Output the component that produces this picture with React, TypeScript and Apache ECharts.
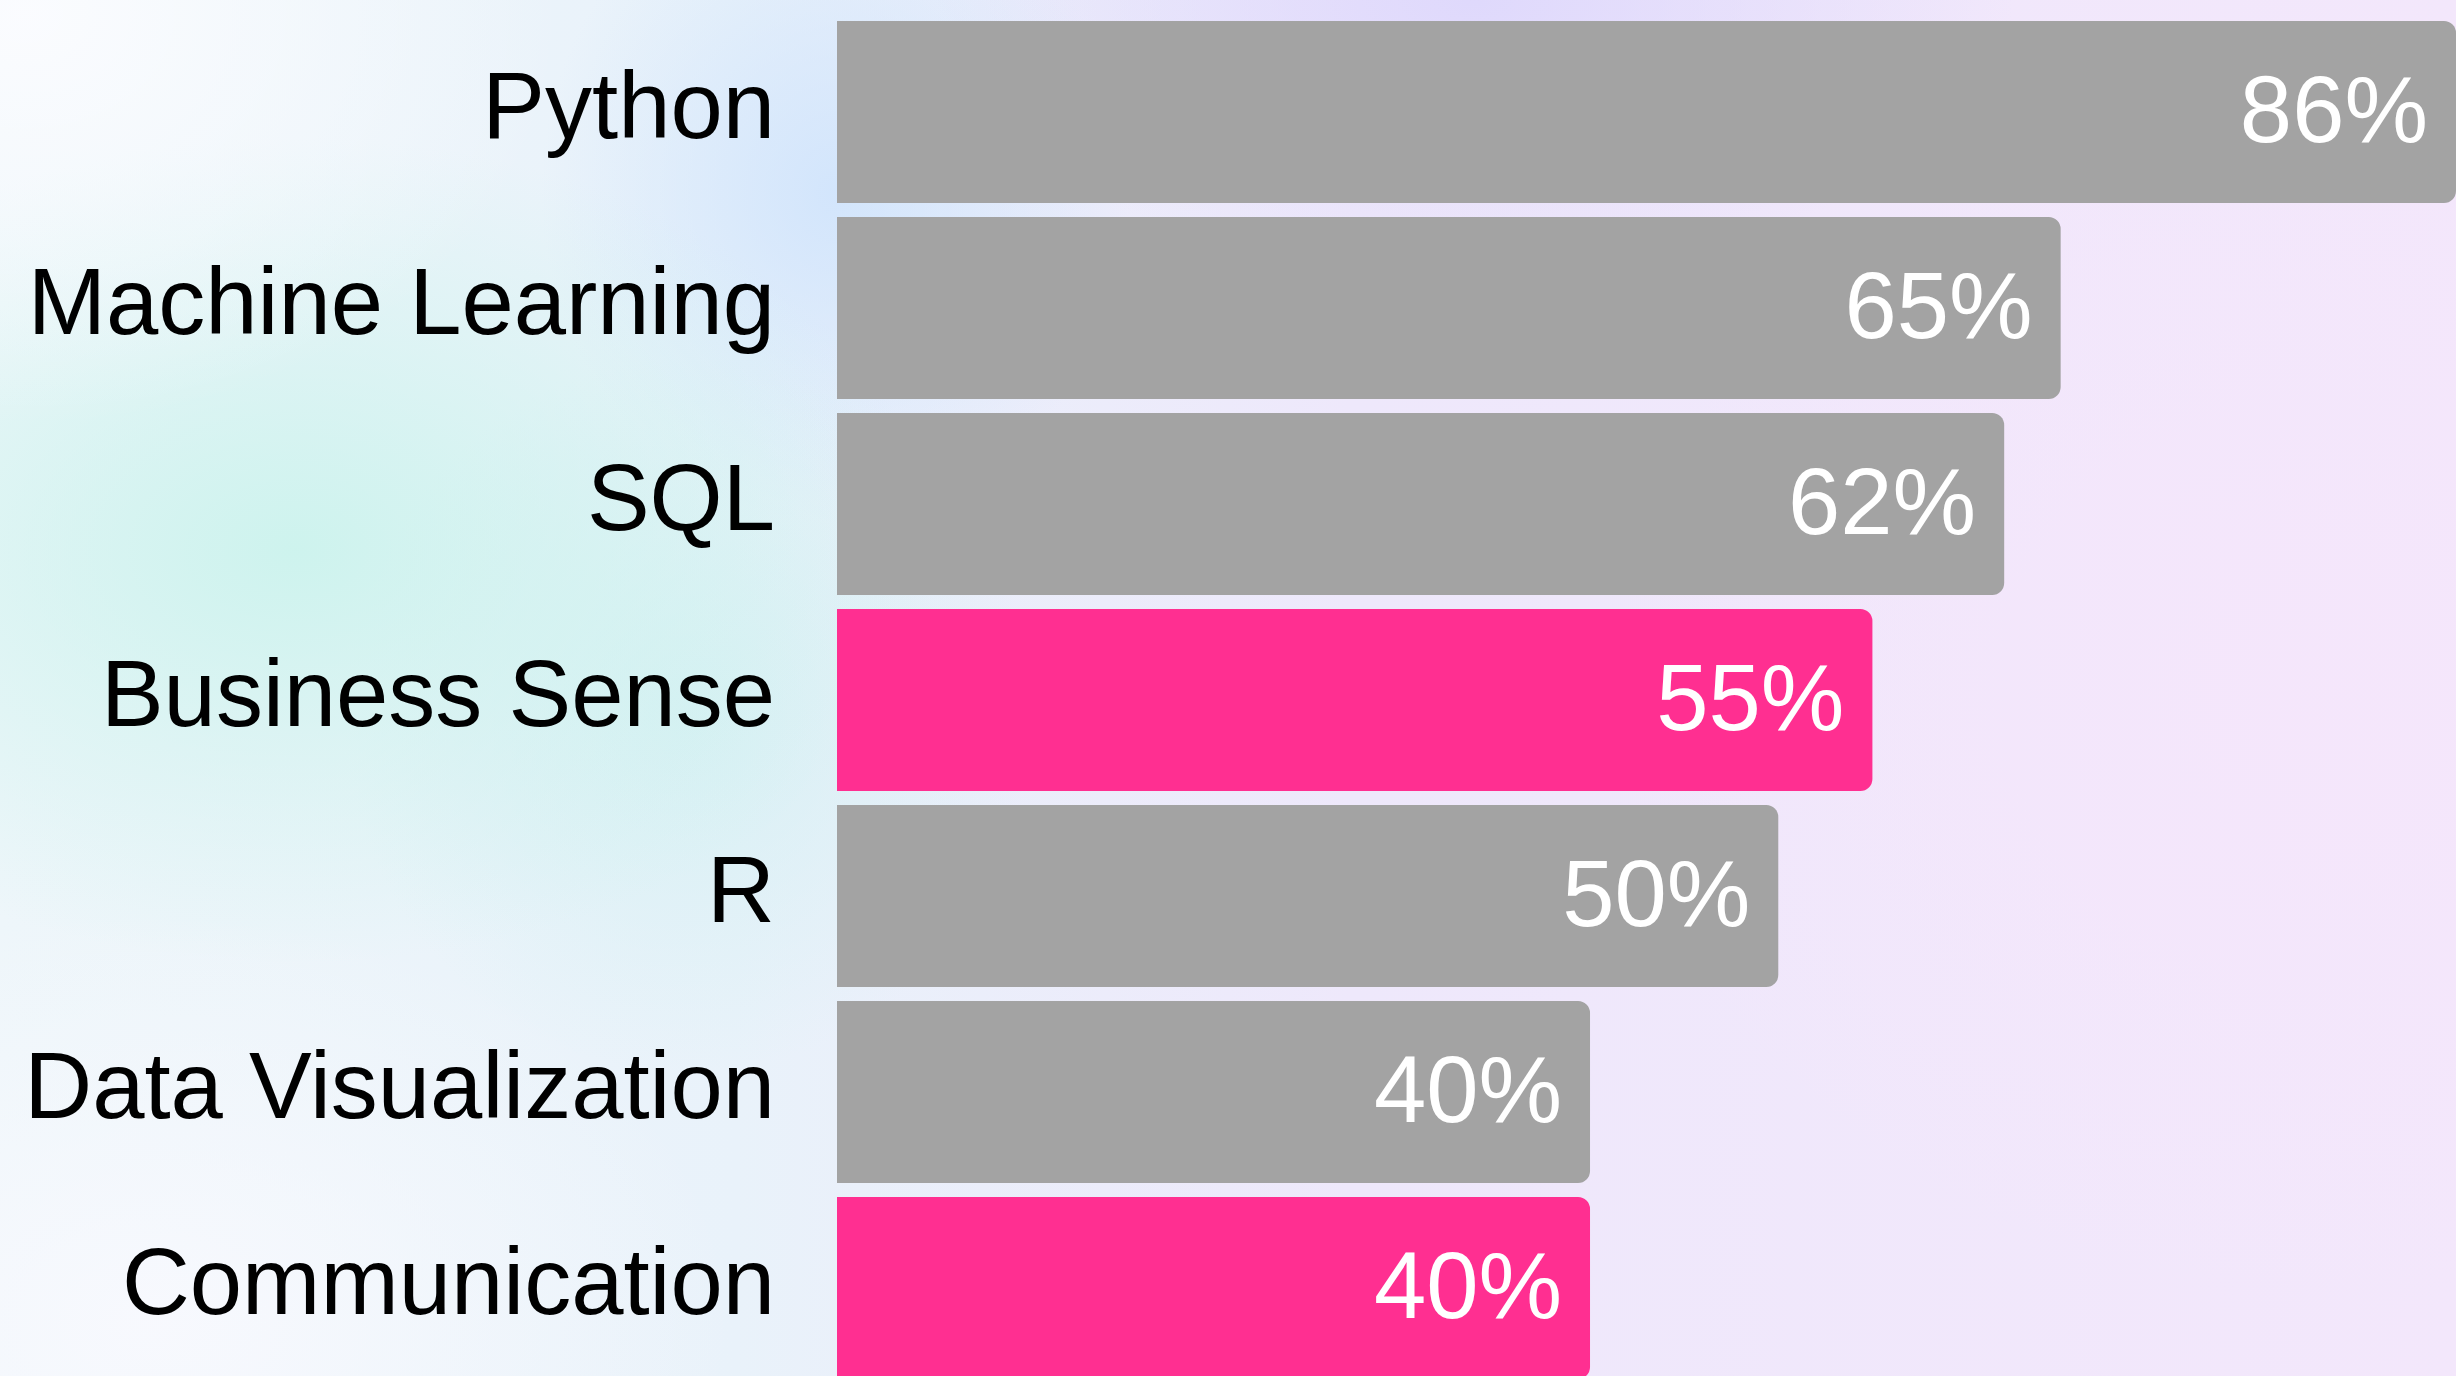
import React, { useEffect, useRef } from "react";
import * as echarts from "echarts";

const categories = [
  "Python",
  "Machine Learning",
  "SQL",
  "Business Sense",
  "R",
  "Data Visualization",
  "Communication",
];
const values = [86, 65, 62, 55, 50, 40, 40];
const highlighted = ["Business Sense", "Communication"];

const GRAY = "#a3a3a3";
const PINK = "#ff2f91";

export default function App() {
  const ref = useRef<HTMLDivElement>(null);
  useEffect(() => {
    document.body.style.margin = "0";
    const chart = echarts.init(ref.current!, null, { renderer: "svg" });
    chart.setOption({
      animation: false,
      grid: {
        left: 837,
        right: 0,
        top: 14,
        height: 1372,
        outerBoundsMode: "none",
      },
      xAxis: {
        type: "value",
        min: 0,
        max: "dataMax",
        show: false,
        splitLine: { show: false },
      },
      yAxis: {
        type: "category",
        inverse: true,
        data: categories,
        axisLine: { show: false },
        axisTick: { show: false },
        axisLabel: {
          margin: 62,
          formatter: "{t|{value}}",
          rich: {
            t: {
              fontSize: 94,
              color: "#000000",
              fontFamily: "Liberation Sans",
              padding: [0, 0, 14, 0],
            },
          },
        },
      },
      series: [
        {
          type: "bar",
          barCategoryGap: "7.2%",
          data: values.map((v, i) => ({
            value: v,
            itemStyle: {
              color: highlighted.includes(categories[i]) ? PINK : GRAY,
              borderRadius: [0, 12, 12, 0],
            },
          })),
          label: {
            show: true,
            position: "insideRight",
            distance: 28,
            offset: [0, -3],
            formatter: "{c}%",
            color: "#ffffff",
            fontSize: 94,
            fontFamily: "Liberation Sans",
          },
        },
      ],
    });
    return () => chart.dispose();
  }, []);

  const bg = [
    "radial-gradient(ellipse 22% 30% at 1% 1%, rgba(251,252,255,0.97), rgba(251,252,255,0) 100%)",
    "radial-gradient(ellipse 26% 30% at 12% 40%, rgba(204,243,237,0.95), rgba(204,243,237,0) 100%)",
    "radial-gradient(ellipse 14% 26% at 28% 52%, rgba(210,240,242,0.8), rgba(210,240,242,0) 100%)",
    "radial-gradient(ellipse 12% 24% at 34% 14%, rgba(208,228,252,0.9), rgba(208,228,252,0) 100%)",
    "radial-gradient(ellipse 22% 20% at 60% 0%, rgba(222,216,252,0.95), rgba(222,216,252,0) 100%)",
    "radial-gradient(ellipse 24% 30% at 6% 96%, rgba(248,249,254,0.95), rgba(248,249,254,0) 100%)",
    "radial-gradient(ellipse 30% 45% at 95% 50%, rgba(245,230,251,0.9), rgba(245,230,251,0) 100%)",
    "linear-gradient(90deg, #eef6fa 0%, #e9f2fa 30%, #eee8fb 55%, #f3e7fb 100%)",
  ].join(", ");

  return (
    <div
      style={{
        position: "fixed",
        left: 0,
        top: 0,
        width: 2456,
        height: 1376,
        background: bg,
      }}
    >
      <div ref={ref} style={{ width: 2456, height: 1376 }} />
    </div>
  );
}
